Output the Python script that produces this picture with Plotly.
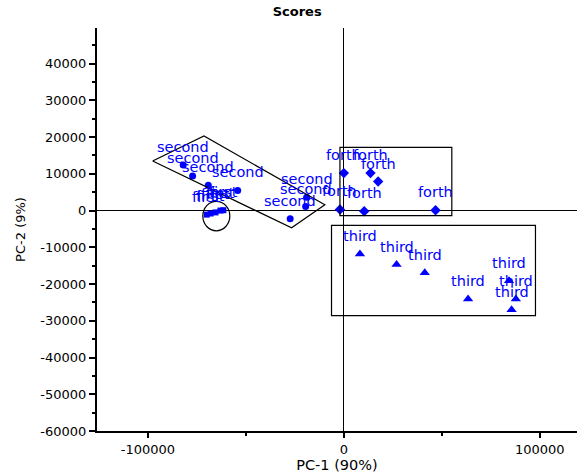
import plotly.graph_objects as go

# ---- data (PC-1, PC-2 scores) ----
first_x = [-70000, -68000, -65500, -63000, -61500]
first_y = [-1100, -800, -500, 0, 100]
first_labels = ["first"] * 5

second_x = [-82000, -77200, -69200, -54200, -19000, -19500, -27400]
second_y = [12400, 9400, 6900, 5500, 3600, 1100, -2200]
second_labels = ["second"] * 7

forth_x = [0, 13600, 17500, -2000, 10400, 46800]
forth_y = [10200, 10200, 7900, 300, -200, 100]
forth_labels = ["forth"] * 6

third_x = [8200, 26900, 41300, 63400, 84300, 87800, 85600]
third_y = [-11800, -14700, -16900, -24100, -19100, -24100, -27000]
third_labels = ["third"] * 7

# group outlines (data coordinates)
second_poly_x = [-97600, -71400, -9700, -26700, -97600]
second_poly_y = [13500, 20300, 1600, -4700, 13500]
first_ellipse = [-72000, -5500, -58200, 2500]   # x0, y0, x1, y1
forth_box = [-2000, -1400, 55100, 17200]
third_box = [-6300, -28600, 97800, -4000]

x_ticks = [-100000, 0, 100000]
y_ticks = [40000, 30000, 20000, 10000, 0, -10000, -20000, -30000, -40000, -50000, -60000]

x_range = [-126000, 119000]
y_range = [-60000, 49700]

BLUE = "#0000ff"
FONT = "DejaVu Sans"

fig = go.Figure()

groups = [
    (first_x, first_y, first_labels, "square", 6),
    (second_x, second_y, second_labels, "circle", 7),
    (forth_x, forth_y, forth_labels, "diamond", 8),
    (third_x, third_y, third_labels, "triangle-up", 9),
]

for gx, gy, gl, sym, sz in groups:
    fig.add_trace(go.Scatter(
        x=gx, y=gy, mode="markers",
        marker=dict(symbol=sym, size=sz, color=BLUE, line=dict(width=0)),
        showlegend=False, hoverinfo="skip"))
    for xi, yi, li in zip(gx, gy, gl):
        fig.add_annotation(x=xi, y=yi, text=li, showarrow=False,
                           yshift=18, xanchor="center", yanchor="middle",
                           font=dict(family=FONT, size=14.5, color=BLUE))

# outlines
fig.add_trace(go.Scatter(x=second_poly_x, y=second_poly_y, mode="lines",
                         line=dict(color="black", width=1.2),
                         showlegend=False, hoverinfo="skip"))
fig.add_shape(type="circle", xref="x", yref="y",
              x0=first_ellipse[0], y0=first_ellipse[1],
              x1=first_ellipse[2], y1=first_ellipse[3],
              line=dict(color="black", width=1.2))
for b in (forth_box, third_box):
    fig.add_shape(type="rect", xref="x", yref="y",
                  x0=b[0], y0=b[1], x1=b[2], y1=b[3],
                  line=dict(color="black", width=1.2))

fig.update_layout(
    width=577, height=476,
    margin=dict(l=97, r=0, t=28, b=45),
    paper_bgcolor="white", plot_bgcolor="white",
    font=dict(family=FONT, size=13, color="black"),
    title=dict(text="<b>Scores</b>", x=0.515, xref="container", xanchor="center",
               y=0.975, yref="container", yanchor="middle",
               font=dict(family=FONT, size=13, color="black")),
)
fig.update_xaxes(
    range=x_range, tickvals=x_ticks, ticktext=[str(v) for v in x_ticks],
    showgrid=False,
    zeroline=True, zerolinecolor="black", zerolinewidth=1,
    showline=True, linecolor="black", linewidth=2,
    ticks="outside", ticklen=5, tickwidth=1.5, tickcolor="black",
    minor=dict(dtick=50000, tick0=0, ticks="outside", ticklen=3, tickwidth=1.5, tickcolor="black"),
    title=dict(text="PC-1 (90%)", font=dict(family=FONT, size=14.5), standoff=4),
)
fig.update_yaxes(
    range=y_range, tickvals=y_ticks, ticktext=[str(v) for v in y_ticks],
    showgrid=False,
    zeroline=True, zerolinecolor="black", zerolinewidth=1,
    showline=True, linecolor="black", linewidth=2,
    ticks="outside", ticklen=6, tickwidth=1.5, tickcolor="black",
    minor=dict(dtick=5000, tick0=0, ticks="outside", ticklen=3, tickwidth=1.5, tickcolor="black"),
    title=dict(text="PC-2 (9%)", font=dict(family=FONT, size=13), standoff=12),
)

fig.write_html("out.html")
